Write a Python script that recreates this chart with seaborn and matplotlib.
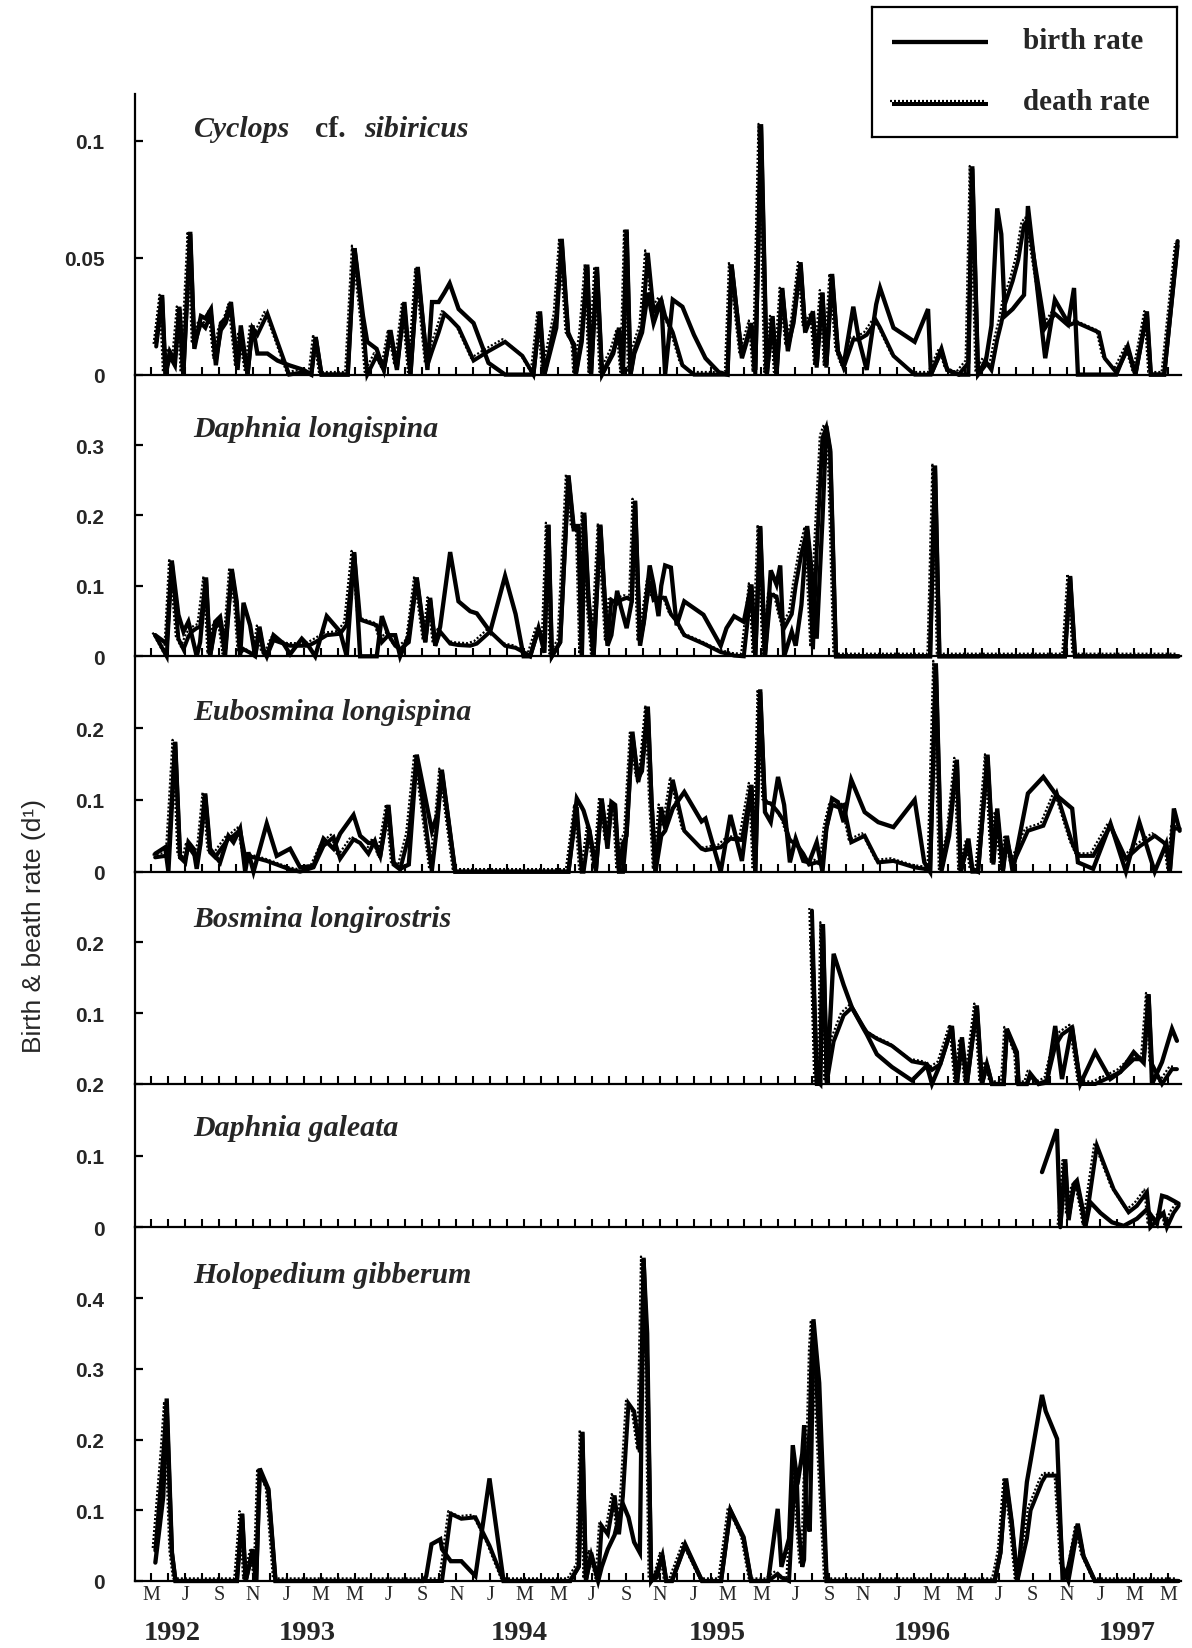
import numpy as np
import pandas as pd
import matplotlib
matplotlib.use("Agg")
import matplotlib.pyplot as plt
import matplotlib.transforms as mtransforms
import seaborn as sns

# ---------------- data : time in months since Jan 1992 (4 = May 1992) ----------------
cyc_t = [4.3, 4.65, 4.85, 5.1, 5.4, 5.67, 5.9, 6.31, 6.55, 6.94, 7.2, 7.53, 7.82, 8.12, 8.4, 8.71, 9.1, 9.29, 9.69, 9.98,
         10.27, 10.86, 11.45, 12.14, 13.0, 13.45, 13.71, 14.05, 15.6, 16.0, 16.5, 16.75, 17.3, 17.73, 18.12, 18.5, 18.94,
         19.3, 19.73, 20.3, 20.57, 20.96, 21.3, 21.61, 22.14, 23.02, 23.9, 24.88, 25.9, 26.55, 26.94, 27.2, 27.9, 28.22,
         28.6, 28.95, 29.05, 29.4, 29.73, 29.95, 30.3, 30.6, 31.26, 31.6, 31.83, 32.05, 32.28, 32.5, 32.96, 33.3, 33.64,
         34.09, 34.32, 34.77, 35.34, 36.02, 36.7, 37.49, 38.0, 38.24, 38.85, 39.41, 39.64, 39.98, 40.32, 40.66, 40.89,
         41.23, 41.56, 41.9, 42.31, 42.58, 43.04, 43.26, 43.6, 43.83, 44.17, 44.51, 44.85, 45.42, 45.75, 46.21, 46.77,
         47.0, 47.79, 49.04, 49.83, 50.0, 50.62, 50.96, 51.64, 52.2, 52.44, 52.78, 53.2, 53.57, 53.91, 54.15, 54.36,
         54.82, 55.15, 55.49, 55.72, 56.74, 57.31, 58.1, 58.44, 58.67, 59.91, 60.25, 60.93, 61.61, 62.06, 62.74, 62.97,
         63.76, 64.55]
cyc_birth = [0.014, 0.034, 0.0, 0.008, 0.004, 0.029, 0.0, 0.061, 0.011, 0.025, 0.024, 0.028, 0.004, 0.022, 0.024, 0.031,
             0.002, 0.021, 0.0, 0.021, 0.009, 0.009, 0.006, 0.004, 0.002, 0.0, 0.016, 0.0, 0.0, 0.054, 0.025, 0.014, 0.011,
             0.002, 0.019, 0.002, 0.031, 0.0, 0.046, 0.002, 0.031, 0.031, 0.035, 0.039, 0.028, 0.022, 0.005, 0.0, 0.0, 0.0,
             0.027, 0.0, 0.02, 0.058, 0.018, 0.012, 0.0, 0.014, 0.047, 0.0, 0.046, 0.0, 0.009, 0.020, 0.002, 0.062, 0.0,
             0.009, 0.018, 0.035, 0.022, 0.032, 0.0, 0.032, 0.029, 0.017, 0.007, 0.001, 0.0, 0.047, 0.007, 0.021, 0.002,
             0.107, 0.0, 0.025, 0.0, 0.037, 0.010, 0.024, 0.048, 0.018, 0.027, 0.004, 0.035, 0.004, 0.043, 0.010, 0.004,
             0.029, 0.015, 0.002, 0.030, 0.037, 0.020, 0.014, 0.028, 0.0, 0.011, 0.002, 0.0, 0.0, 0.089, 0.0, 0.004, 0.021,
             0.071, 0.060, 0.025, 0.028, 0.031, 0.034, 0.072, 0.007, 0.032, 0.022, 0.037, 0.0, 0.0, 0.0, 0.0, 0.012, 0.0,
             0.027, 0.0, 0.0, 0.057]
cyc_death = [0.012, 0.033, 0.0, 0.010, 0.006, 0.028, 0.0, 0.060, 0.013, 0.022, 0.020, 0.026, 0.006, 0.019, 0.022, 0.029,
             0.003, 0.017, 0.0, 0.020, 0.017, 0.026, 0.014, 0.0, 0.001, 0.0, 0.016, 0.0, 0.0, 0.054, 0.022, 0.0, 0.008,
             0.002, 0.018, 0.003, 0.029, 0.0, 0.044, 0.004, 0.010, 0.018, 0.026, 0.024, 0.020, 0.006, 0.010, 0.014, 0.008,
             0.0, 0.026, 0.0, 0.025, 0.057, 0.017, 0.013, 0.0, 0.016, 0.046, 0.0, 0.045, 0.0, 0.010, 0.018, 0.0, 0.061,
             0.0, 0.010, 0.020, 0.052, 0.027, 0.032, 0.025, 0.018, 0.004, 0.0, 0.0, 0.0, 0.0, 0.047, 0.008, 0.022, 0.0,
             0.106, 0.0, 0.024, 0.0, 0.036, 0.012, 0.022, 0.047, 0.020, 0.025, 0.003, 0.035, 0.003, 0.042, 0.010, 0.003,
             0.015, 0.015, 0.017, 0.023, 0.020, 0.008, 0.0, 0.0, 0.0, 0.010, 0.002, 0.0, 0.005, 0.088, 0.0, 0.006, 0.002,
             0.015, 0.022, 0.030, 0.040, 0.049, 0.064, 0.066, 0.020, 0.026, 0.021, 0.022, 0.022, 0.018, 0.007, 0.001,
             0.011, 0.0, 0.026, 0.0, 0.0, 0.055]

dlo_t = [4.24, 4.92, 5.22, 5.61, 5.91, 6.2, 6.4, 6.69, 6.89, 7.24, 7.48, 7.78, 8.07, 8.37, 8.76, 9.05, 9.25, 9.45, 9.84,
         10.14, 10.39, 10.63, 10.82, 11.22, 11.81, 12.2, 12.89, 13.28, 13.68, 14.36, 15.15, 15.54, 15.98, 16.33, 17.31,
         17.61, 18.0, 18.4, 18.69, 19.2, 19.67, 20.17, 20.46, 20.76, 21.05, 21.64, 22.13, 22.82, 23.21, 24.0, 24.88, 25.5,
         25.97, 26.36, 26.85, 27.2, 27.44, 27.64, 28.13, 28.62, 28.92, 29.21, 29.41, 29.55, 29.8, 30.1, 30.5, 30.92,
         31.15, 31.49, 31.71, 32.05, 32.35, 32.55, 32.84, 33.07, 33.41, 33.64, 33.93, 34.09, 34.32, 34.66, 35.0, 35.45,
         36.58, 37.6, 37.94, 38.39, 38.96, 39.41, 39.64, 39.93, 40.21, 40.55, 40.89, 41.11, 41.34, 41.79, 42.02, 42.36,
         42.7, 43.04, 43.26, 43.6, 43.83, 44.06, 44.4, 49.95, 50.24, 50.5, 57.9, 58.21, 58.5, 64.6]
dlo_birth = [0.030, 0.018, 0.136, 0.059, 0.035, 0.049, 0.030, 0.0, 0.020, 0.112, 0.0, 0.049, 0.056, 0.010, 0.124, 0.078,
             0.0, 0.076, 0.044, 0.0, 0.042, 0.010, 0.0, 0.030, 0.018, 0.003, 0.025, 0.015, 0.0, 0.057, 0.035, 0.0, 0.148,
             0.0, 0.0, 0.057, 0.030, 0.030, 0.0, 0.030, 0.112, 0.020, 0.083, 0.015, 0.042, 0.148, 0.078, 0.064, 0.061,
             0.035, 0.114, 0.060, 0.0, 0.0, 0.040, 0.005, 0.187, 0.0, 0.020, 0.257, 0.185, 0.185, 0.0, 0.204, 0.083, 0.0,
             0.187, 0.015, 0.030, 0.093, 0.070, 0.040, 0.078, 0.221, 0.015, 0.049, 0.129, 0.102, 0.057, 0.100, 0.129,
             0.126, 0.044, 0.078, 0.059, 0.015, 0.040, 0.057, 0.049, 0.102, 0.0, 0.185, 0.0, 0.122, 0.102, 0.129, 0.0,
             0.035, 0.015, 0.073, 0.185, 0.102, 0.025, 0.194, 0.327, 0.293, 0.0, 0.0, 0.271, 0.0, 0.0, 0.114, 0.0, 0.0]
dlo_death = [0.030, 0.0, 0.135, 0.025, 0.010, 0.028, 0.035, 0.040, 0.042, 0.110, 0.0, 0.040, 0.050, 0.0, 0.122, 0.070,
             0.005, 0.010, 0.005, 0.0, 0.040, 0.005, 0.0, 0.023, 0.018, 0.015, 0.015, 0.015, 0.020, 0.030, 0.032, 0.045,
             0.146, 0.052, 0.044, 0.020, 0.030, 0.015, 0.010, 0.020, 0.110, 0.020, 0.080, 0.015, 0.035, 0.018, 0.016,
             0.015, 0.018, 0.035, 0.015, 0.012, 0.006, 0.0, 0.038, 0.020, 0.186, 0.0, 0.020, 0.255, 0.180, 0.180, 0.0,
             0.200, 0.080, 0.0, 0.185, 0.020, 0.080, 0.075, 0.080, 0.083, 0.080, 0.220, 0.020, 0.050, 0.107, 0.080, 0.083,
             0.083, 0.083, 0.060, 0.050, 0.030, 0.018, 0.006, 0.004, 0.001, 0.0, 0.100, 0.0, 0.183, 0.0, 0.088, 0.085,
             0.060, 0.040, 0.060, 0.100, 0.146, 0.180, 0.010, 0.150, 0.310, 0.325, 0.290, 0.0, 0.0, 0.270, 0.0, 0.0, 0.113,
             0.0, 0.0]

eub_t = [4.24, 4.83, 5.02, 5.42, 5.71, 6.01, 6.2, 6.5, 6.69, 6.89, 7.19, 7.48, 7.78, 8.07, 8.56, 8.86, 9.25, 9.55, 9.74,
         10.04, 10.82, 11.41, 12.2, 12.79, 13.58, 14.17, 14.76, 15.15, 15.94, 16.33, 16.82, 17.2, 17.51, 18.0, 18.3,
         18.69, 19.2, 19.67, 20.56, 20.9, 21.15, 21.94, 28.62, 29.11, 29.4, 29.51, 29.85, 30.24, 30.58, 30.92, 31.15,
         31.37, 31.6, 31.83, 32.05, 32.39, 32.73, 32.96, 33.3, 33.52, 33.75, 34.09, 34.32, 34.77, 35.45, 36.47, 36.7,
         37.6, 38.17, 38.85, 39.41, 39.64, 39.93, 40.21, 40.55, 40.98, 41.34, 41.68, 42.02, 42.47, 42.81, 43.26, 43.6,
         43.83, 44.17, 44.51, 44.85, 45.3, 46.09, 46.89, 47.79, 49.04, 49.61, 49.95, 50.29, 50.62, 51.08, 51.53, 51.76,
         52.21, 52.44, 52.78, 53.34, 53.68, 53.91, 54.25, 54.48, 54.82, 55.72, 56.63, 57.42, 58.33, 58.67, 59.57, 60.59,
         61.5, 62.29, 63.2, 63.88, 64.1, 64.33, 64.67]
eub_birth = [0.025, 0.034, 0.0, 0.181, 0.020, 0.013, 0.041, 0.032, 0.004, 0.036, 0.109, 0.032, 0.022, 0.013, 0.050, 0.041,
             0.060, 0.0, 0.027, 0.0, 0.067, 0.022, 0.032, 0.006, 0.008, 0.046, 0.032, 0.053, 0.079, 0.050, 0.040, 0.040,
             0.022, 0.093, 0.013, 0.004, 0.010, 0.163, 0.057, 0.080, 0.142, 0.0, 0.0, 0.102, 0.090, 0.085, 0.058, 0.004,
             0.102, 0.032, 0.097, 0.093, 0.0, 0.0, 0.057, 0.195, 0.125, 0.150, 0.230, 0.097, 0.0, 0.050, 0.057, 0.088,
             0.111, 0.070, 0.074, 0.0, 0.079, 0.015, 0.121, 0.0, 0.254, 0.083, 0.069, 0.132, 0.093, 0.013, 0.046, 0.015,
             0.013, 0.041, 0.0, 0.060, 0.102, 0.097, 0.069, 0.128, 0.083, 0.069, 0.062, 0.100, 0.013, 0.0, 0.290, 0.004,
             0.060, 0.156, 0.0, 0.046, 0.004, 0.0, 0.163, 0.013, 0.088, 0.004, 0.050, 0.0, 0.109, 0.132, 0.106, 0.088,
             0.013, 0.004, 0.067, 0.0, 0.069, 0.0, 0.039, 0.004, 0.088, 0.057]
eub_death = [0.020, 0.022, 0.020, 0.180, 0.020, 0.018, 0.035, 0.025, 0.020, 0.036, 0.107, 0.027, 0.020, 0.030, 0.046, 0.050,
             0.058, 0.020, 0.022, 0.020, 0.015, 0.010, 0.003, 0.0, 0.006, 0.036, 0.048, 0.018, 0.045, 0.040, 0.025, 0.043,
             0.020, 0.090, 0.010, 0.003, 0.050, 0.160, 0.0, 0.070, 0.140, 0.0, 0.0, 0.090, 0.0, 0.0, 0.058, 0.0, 0.100,
             0.040, 0.090, 0.090, 0.0, 0.040, 0.050, 0.190, 0.130, 0.140, 0.228, 0.100, 0.0, 0.090, 0.060, 0.128, 0.057,
             0.032, 0.030, 0.034, 0.046, 0.044, 0.120, 0.0, 0.250, 0.097, 0.095, 0.083, 0.070, 0.043, 0.040, 0.025, 0.010,
             0.013, 0.010, 0.060, 0.093, 0.090, 0.093, 0.041, 0.050, 0.013, 0.015, 0.006, 0.004, 0.0, 0.290, 0.0, 0.050,
             0.155, 0.0, 0.040, 0.0, 0.0, 0.160, 0.010, 0.080, 0.0, 0.045, 0.010, 0.057, 0.064, 0.109, 0.040, 0.022, 0.022,
             0.064, 0.018, 0.035, 0.050, 0.038, 0.0, 0.060, 0.060]

bos_t = [42.98, 43.27, 43.47, 43.63, 43.86, 44.26, 44.85, 45.34, 46.03, 46.22, 46.81, 47.7, 48.88, 49.76, 50.06, 50.55,
         51.24, 51.53, 51.83, 52.12, 52.42, 52.71, 53.01, 53.3, 53.6, 54.29, 54.48, 55.07, 55.17, 55.66, 55.86, 56.35,
         56.84, 57.33, 57.73, 58.32, 58.81, 59.69, 60.58, 61.17, 61.96, 62.55, 62.84, 63.04, 63.63, 64.22, 64.51]
bos_birth = [0.207, 0.005, 0.0, 0.226, 0.0, 0.184, 0.140, 0.108, 0.078, 0.070, 0.042, 0.024, 0.005, 0.026, 0.0, 0.028,
             0.082, 0.0, 0.066, 0.0, 0.059, 0.111, 0.0, 0.028, 0.0, 0.0, 0.078, 0.045, 0.0, 0.0, 0.012, 0.0, 0.002, 0.082,
             0.007, 0.082, 0.0, 0.045, 0.007, 0.017, 0.045, 0.030, 0.127, 0.0, 0.031, 0.078, 0.061]
bos_death = [0.245, 0.0, 0.0, 0.225, 0.003, 0.060, 0.097, 0.108, 0.080, 0.073, 0.064, 0.054, 0.032, 0.028, 0.020, 0.028,
             0.080, 0.0, 0.060, 0.0, 0.055, 0.110, 0.0, 0.028, 0.0, 0.0, 0.077, 0.040, 0.0, 0.0, 0.015, 0.0, 0.005, 0.054,
             0.070, 0.080, 0.0, 0.0, 0.010, 0.017, 0.035, 0.035, 0.125, 0.028, 0.0, 0.021, 0.021]

gal_birth_t = [56.55, 57.43, 57.63, 57.92, 58.12, 58.42, 58.61, 58.91, 59.1, 59.4, 60.0, 60.68, 61.37, 62.15, 62.74, 63.33,
               63.63, 63.92, 64.31, 64.61]
gal_birth = [0.077, 0.137, 0.0, 0.095, 0.010, 0.060, 0.065, 0.030, 0.0, 0.035, 0.020, 0.007, 0.002, 0.012, 0.025, 0.005,
             0.044, 0.042, 0.037, 0.033]
gal_death_t = [57.63, 57.92, 58.12, 58.42, 58.61, 58.91, 59.1, 59.79, 60.78, 61.66, 62.15, 62.74, 62.94, 63.33, 63.72,
               63.92, 64.31, 64.61]
gal_death = [0.0, 0.090, 0.015, 0.053, 0.060, 0.028, 0.0, 0.114, 0.053, 0.021, 0.030, 0.049, 0.0, 0.010, 0.020, 0.0,
             0.020, 0.030]

hol_t = [4.25, 4.72, 4.92, 5.23, 5.44, 9.06, 9.37, 9.58, 9.99, 10.2, 10.41, 10.92, 11.34, 20.03, 20.23, 20.54, 21.06,
         21.16, 21.68, 22.3, 23.13, 23.96, 24.79, 28.72, 29.23, 29.44, 29.65, 29.96, 30.37, 30.58, 30.94, 31.34, 31.6,
         31.83, 32.16, 32.49, 32.83, 33.05, 33.27, 33.5, 33.83, 34.16, 34.39, 34.72, 35.5, 36.5, 37.62, 38.17, 38.95,
         39.4, 40.4, 40.96, 41.18, 41.63, 41.85, 42.07, 42.18, 42.41, 42.52, 42.63, 42.85, 42.96, 43.07, 43.41, 43.85,
         53.76, 54.1, 54.43, 54.77, 55.1, 55.66, 55.88, 56.55, 56.77, 57.44, 57.77, 58.11, 58.66, 59.0, 59.67, 64.6]
hol_birth = [0.026, 0.120, 0.258, 0.040, 0.0, 0.0, 0.095, 0.0, 0.045, 0.0, 0.159, 0.130, 0.0, 0.0, 0.007, 0.052, 0.059,
             0.045, 0.028, 0.028, 0.007, 0.145, 0.0, 0.0, 0.021, 0.211, 0.002, 0.036, 0.0, 0.020, 0.045, 0.065, 0.090,
             0.109, 0.090, 0.055, 0.040, 0.457, 0.300, 0.0, 0.012, 0.036, 0.0, 0.0, 0.052, 0.0, 0.0, 0.100, 0.062, 0.0,
             0.0, 0.102, 0.020, 0.060, 0.192, 0.150, 0.145, 0.180, 0.220, 0.100, 0.070, 0.200, 0.370, 0.280, 0.0, 0.0,
             0.040, 0.145, 0.083, 0.0, 0.140, 0.170, 0.263, 0.240, 0.201, 0.0, 0.020, 0.081, 0.035, 0.0, 0.0]
hol_death = [0.043, 0.180, 0.250, 0.040, 0.0, 0.0, 0.095, 0.0, 0.040, 0.0, 0.155, 0.128, 0.0, 0.0, 0.0, 0.0, 0.0, 0.0,
             0.095, 0.088, 0.090, 0.050, 0.0, 0.0, 0.020, 0.210, 0.0, 0.040, 0.0, 0.078, 0.066, 0.121, 0.066, 0.120,
             0.251, 0.240, 0.182, 0.455, 0.350, 0.0, 0.005, 0.036, 0.0, 0.0, 0.050, 0.0, 0.0, 0.100, 0.060, 0.0, 0.0,
             0.010, 0.005, 0.0, 0.100, 0.159, 0.080, 0.020, 0.030, 0.135, 0.220, 0.325, 0.365, 0.200, 0.0, 0.0, 0.040,
             0.140, 0.080, 0.0, 0.060, 0.100, 0.140, 0.149, 0.149, 0.020, 0.0, 0.075, 0.035, 0.0, 0.0]

species = ["Daphnia longispina", "Eubosmina longispina", "Bosmina longirostris", "Daphnia galeata",
           "Holopedium gibberum"]
cyclops_parts = ["Cyclops", "cf.", "sibiricus"]
ytick_vals = [[0, 0.05, 0.1], [0, 0.1, 0.2, 0.3], [0, 0.1, 0.2], [0.1, 0.2], [0, 0.1, 0.2], [0, 0.1, 0.2, 0.3, 0.4]]
ytick_text = [["0", "0.05", "0.1"], ["0", "0.1", "0.2", "0.3"], ["0", "0.1", "0.2"], ["0.1", "0.2"],
              ["0", "0.1", "0.2"], ["0", "0.1", "0.2", "0.3", "0.4"]]
ymax = [0.12, 0.4, 0.3, 0.3, 0.2, 0.5]
month_ticks = list(range(4, 65, 2))
month_letters = ["M", "J", "S", "N", "J", "M"] * 5 + ["M"]
year_pos = [5.24, 13.2, 25.7, 37.4, 49.5, 61.6]
year_text = ["1992", "1993", "1994", "1995", "1996", "1997"]
legend_text = ["birth rate", "death rate"]
ylabel_text = "Birth & beath rate (d\u00b9)"

# ---------------- style ----------------
sns.set_style("ticks")
plt.rcParams["font.family"] = ["Liberation Sans", "DejaVu Sans"]
SERIF = ["Liberation Serif", "DejaVu Serif"]

W, H = 1192, 1649
fig = plt.figure(figsize=(W / 100, H / 100), dpi=100)
fig.patch.set_facecolor("white")

left_px, right_px = 135, 1181
bounds = [94.7, 375.6, 657.3, 872.7, 1085.0, 1228.3, 1582.0]
label_y = [0.876, 0.807, 0.743, 0.78, 0.694, 0.866]

series = [
    (cyc_t, cyc_birth, cyc_t, cyc_death),
    (dlo_t, dlo_birth, dlo_t, dlo_death),
    (eub_t, eub_birth, eub_t, eub_death),
    (bos_t, bos_birth, bos_t, bos_death),
    (gal_birth_t, gal_birth, gal_death_t, gal_death),
    (hol_t, hol_birth, hol_t, hol_death),
]

offset = mtransforms.ScaledTranslation(-2.6 / 100, 2.6 / 100, fig.dpi_scale_trans)
LW_B, LW_D, LW_DOT = 3.1, 2.9, 1.6


def draw_death(ax, t, v):
    sns.lineplot(x=t, y=v, ax=ax, color="black", lw=LW_D, sort=False, estimator=None)
    sns.lineplot(x=t, y=v, ax=ax, color="black", lw=LW_DOT, sort=False, estimator=None)
    ln = ax.lines[-1]
    ln.set_linestyle((0, (0.9, 0.9)))
    ln.set_transform(ax.transData + offset)


axes = []
for i in range(6):
    top, bot = bounds[i], bounds[i + 1]
    ax = fig.add_axes([left_px / W, 1 - bot / H, (right_px - left_px) / W, (bot - top) / H])
    ax.patch.set_alpha(0)
    tb, b, td, d = series[i]
    draw_death(ax, td, d)
    sns.lineplot(x=tb, y=b, ax=ax, color="black", lw=LW_B, sort=False, estimator=None)
    for ln in ax.lines:
        ln.set_clip_on(False)
        ln.set_solid_joinstyle("miter")
    ax.set_xlim(3.05, 64.75)
    ax.set_ylim(0, ymax[i])
    ax.set_xlabel("")
    ax.set_ylabel("")
    for s in ["top", "right"]:
        ax.spines[s].set_visible(False)
    for s in ["left", "bottom"]:
        ax.spines[s].set_linewidth(1.6)
        ax.spines[s].set_color("black")
    ax.set_xticks(month_ticks)
    ax.set_xticks(range(4, 65), minor=True)
    ax.tick_params(axis="x", which="both", direction="in", length=6, width=1.5, color="black",
                   bottom=True, top=False, labelbottom=(i == 5), pad=3)
    ax.set_yticks(ytick_vals[i])
    ax.set_yticklabels(ytick_text[i], fontweight="bold", fontsize=15)
    ax.tick_params(axis="y", which="major", direction="in", length=6, width=1.6, color="black", pad=22,
                   left=True, right=False)
    axes.append(ax)

# species labels
x0 = (193 - left_px) / (right_px - left_px)
axc = axes[0]
for txt, xp, sty in zip(cyclops_parts, [194, 315, 364], ["italic", "normal", "italic"]):
    axc.text((xp - left_px) / (right_px - left_px), label_y[0], txt, transform=axc.transAxes,
             family=SERIF, fontsize=21.5, fontweight="bold", fontstyle=sty, va="center", ha="left")
for i, name in enumerate(species):
    ax = axes[i + 1]
    ax.text(x0, label_y[i + 1], name, transform=ax.transAxes, family=SERIF, fontsize=21.5,
            fontweight="bold", fontstyle="italic", va="center", ha="left")

# bottom axis labels
axb = axes[5]
axb.set_xticklabels(month_letters, family=SERIF, fontsize=14.5)
blend = mtransforms.blended_transform_factory(axb.transData, axb.transAxes)
for xp, yt in zip(year_pos, year_text):
    axb.text(xp, -0.145, yt, transform=blend, family=SERIF, fontsize=20.5, fontweight="bold",
             ha="center", va="center", clip_on=False)

# y label
fig.text(34 / W, 1 - 926 / H, ylabel_text, rotation=90, ha="center", va="center", fontsize=19,
         family=["Liberation Sans", "DejaVu Sans"])

# legend box
lax = fig.add_axes([872 / W, 1 - 138 / H, 305 / W, 130 / H])
lax.set_xlim(0, 1)
lax.set_ylim(0, 1)
lax.set_xticks([])
lax.set_yticks([])
for s in lax.spines.values():
    s.set_linewidth(1.6)
    s.set_color("black")
    s.set_visible(True)
lax.plot([0.066, 0.38], [0.733, 0.733], color="black", lw=LW_B, solid_capstyle="butt")
lax.plot([0.066, 0.38], [0.254, 0.254], color="black", lw=LW_D, solid_capstyle="butt")
ld = lax.plot([0.066, 0.38], [0.254, 0.254], color="black", lw=LW_DOT, linestyle=(0, (0.9, 0.9)))[0]
ld.set_transform(lax.transData + offset)
lax.text(0.495, 0.74, legend_text[0], family=SERIF, fontsize=21, fontweight="bold", va="center", ha="left")
lax.text(0.495, 0.27, legend_text[1], family=SERIF, fontsize=21, fontweight="bold", va="center", ha="left")

fig.savefig("out.png", dpi=100, facecolor="white")
